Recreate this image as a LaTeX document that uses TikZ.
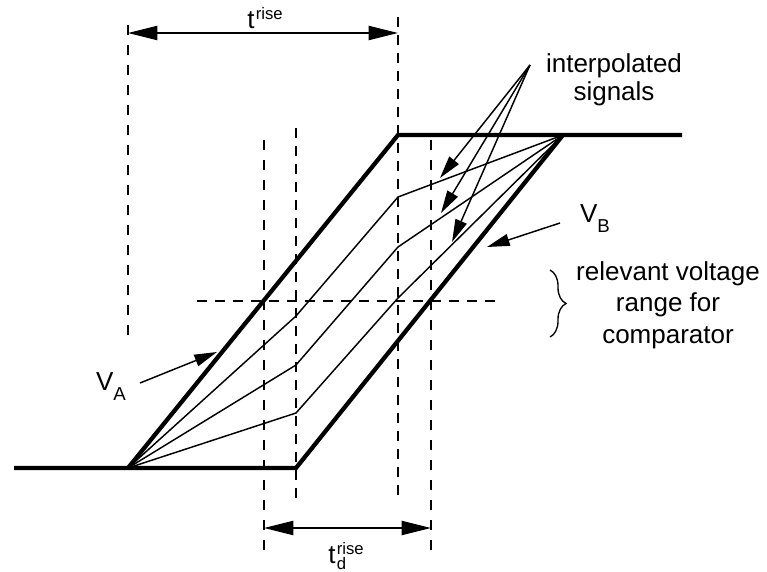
\documentclass[tikz,border=0pt]{standalone}
\usepackage{fontspec}
\setmainfont{Liberation Sans}
\usetikzlibrary{arrows.meta,decorations.pathreplacing}

\newcommand{\scripttext}[1]{{\fontsize{12.5}{13}\selectfont #1}}
\newcommand{\supscr}[1]{\raisebox{6.5pt}{\scripttext{#1}}}
\newcommand{\subscr}[1]{\raisebox{-7.5pt}{{\fontsize{14}{14}\selectfont #1}}}

\tikzset{
  signal/.style={line width=3.2pt,line join=miter},
  interp/.style={line width=1.1pt},
  guide/.style={line width=1.5pt,dash pattern=on 7.5pt off 7.5pt},
  guidebold/.style={line width=2pt,dash pattern=on 7.5pt off 6pt},
  dimline/.style={line width=1.5pt,{Triangle[length=22pt,width=10.5pt]}-{Triangle[length=22pt,width=10.5pt]}},
  pointer/.style={line width=1.1pt,-{Triangle[length=17pt,width=9pt]}},
  vlabel/.style={anchor=base,font=\fontsize{19.5}{21}\selectfont},
}

\begin{document}
\begin{tikzpicture}[x=0.75pt,y=-0.75pt,font=\fontsize{19.5}{21}\selectfont]
  \useasboundingbox (0,0) rectangle (767,571);

  % corner points of V_A and V_B
  \coordinate (lo) at (14,468);
  \coordinate (a0) at (128,468);
  \coordinate (b0) at (296,468);
  \coordinate (a1) at (398,135);
  \coordinate (b1) at (563,135);
  \coordinate (hi) at (682,135);

  % kinks of the interpolated signals
  \coordinate (p1) at (296,316);
  \coordinate (p2) at (296,365);
  \coordinate (p3) at (296,413);
  \coordinate (q1) at (398,197);
  \coordinate (q2) at (398,247);
  \coordinate (q3) at (398,298);

  % dashed guides
  \draw [guide] (128,25) coordinate (g1t) -- (128,337) coordinate (g1b);
  \draw [guidebold] (398,17) coordinate (g2t) -- (398,503) coordinate (g2b);
  \draw [guidebold] (296,128) coordinate (g3t) -- (296,503) coordinate (g3b);
  \draw [guide] (264,140) coordinate (g4t) -- (264,555) coordinate (g4b);
  \draw [guide] (431,140) coordinate (g5t) -- (431,555) coordinate (g5b);
  \draw [guidebold] (197,301) coordinate (hl) -- (502,301) coordinate (hr);

  \draw [interp] (a0) -- (p1) -- (q1) -- (b1);
  \draw [interp] (a0) -- (p2) -- (q2) -- (b1);
  \draw [interp] (a0) -- (p3) -- (q3) -- (b1);

  \draw [signal] (lo) -- (b0) -- (b1);
  \draw [signal] (a0) -- (a1) -- (hi);

  % time spans
  \coordinate (r0) at (128,33);
  \coordinate (r1) at (398,33);
  \draw [dimline] (r0) -- (r1);
  \node [anchor=base] (trise) at (265,28) {t\kern1pt\supscr{rise}};
  \coordinate (d0) at (264,528);
  \coordinate (d1) at (431,528);
  \draw [dimline] (d0) -- (d1);
  \node [anchor=base] (tdrise) at (346,563) {t\kern1pt\rlap{\raisebox{-4.5pt}{\scripttext{d}}}\supscr{rise}};

  % labels
  \node [anchor=base,align=center] (interplabel) at (614,100) {interpolated\\signals};
  \coordinate (src) at (530,65);
  \coordinate (t1) at (440,178);
  \coordinate (t2) at (441,213);
  \coordinate (t3) at (452,242);
  \draw [pointer] (src) -- (t1);
  \draw [pointer] (src) -- (t2);
  \draw [pointer] (src) -- (t3);

  \node [vlabel] (vb) at (595,222) {V\subscr{B}};
  \coordinate (vbs) at (560,223);
  \coordinate (vbt) at (487,247);
  \draw [pointer] (vbs) -- (vbt);

  \node [vlabel] (va) at (111,390) {V\subscr{A}};
  \coordinate (vas) at (140,383);
  \coordinate (vat) at (217,352);
  \draw [pointer] (vas) -- (vat);

  \draw [line width=1pt,decorate,decoration={brace,amplitude=12pt}] (550,270) coordinate (bt) -- (550,337) coordinate (bb);
  \node [anchor=base,align=center,font=\fontsize{19.5}{23.5}\selectfont] (range) at (668,343) {relevant voltage\\range for\\comparator};
\end{tikzpicture}
\end{document}
